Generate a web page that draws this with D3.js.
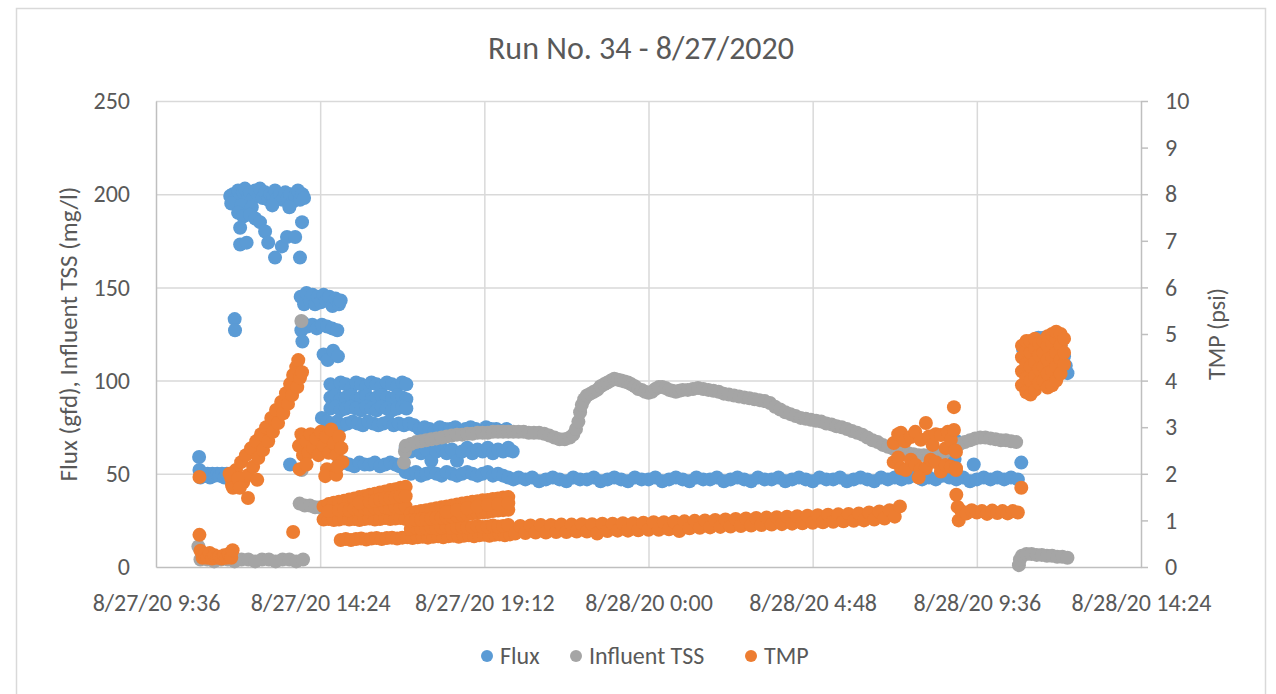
<!DOCTYPE html>
<html>
<head>
<meta charset="utf-8">
<script src="https://cdn.jsdelivr.net/npm/d3@7"></script>
<style>
  body { margin: 0; background: #fff; }
  svg { display: block; font-family: Carlito, Lato, "Open Sans", sans-serif; }
</style>
</head>
<body>
<div id="chart"></div>
<script>
// readings as [hours since 8/27/20 0:00, value]
const flux = [
  [10.86,59],[10.87,52],[10.9,48],[10.97,50],[11.04,49],[11.11,50],[11.18,48],[11.25,50],[11.32,49],[11.39,50],[11.46,49],[11.53,50],[11.6,48],[11.67,50],[11.74,49],[11.81,50],[11.88,49],
  [11.9,133],[11.91,127],
  [11.77,199],[11.85,200],[11.91,197],[12.0,202],[12.06,198],[12.15,201],[12.2,203],[12.3,199],[12.35,201],[12.45,198],[12.5,202],[12.6,199],[12.64,203],[12.72,198],[12.79,201],[12.88,197],[12.94,200],[13.02,199],[13.08,202],[13.15,198],[13.23,200],[13.3,197],[13.38,201],[13.45,198],[13.52,200],[13.6,196],[13.67,199],[13.75,202],[13.81,197],[13.88,200],[13.93,198],
  [11.8,195],[12.1,194],[12.4,193],[13.0,194],[13.5,193],[12.0,190],[12.15,188],
  [12.06,182],[12.06,173],[12.25,174],[12.35,189],[12.5,187],[12.64,185],[12.79,180],[12.88,174],[13.08,166],[13.28,172],[13.43,177],[13.67,177],[13.87,185],[13.81,166],
  [13.52,55],[13.85,127],[13.88,121],
  [13.83,145],[13.93,141],[14.0,147],[14.1,143],[14.18,146],[14.25,141],[14.33,145],[14.42,142],[14.5,146],[14.58,143],[14.67,145],[14.76,140],[14.85,144],[14.95,141],[15.0,143],
  [13.9,131],[14.03,129],[14.17,130],[14.3,128],[14.45,130],[14.6,129],[14.75,128],[14.9,127],
  [14.5,114],[14.62,111],[14.78,116],[14.92,113],
  [14.7,98],[14.85,97],[15.0,99],[15.15,98],[15.3,96],[15.45,99],[15.6,98],[15.75,97],[15.9,99],[16.05,98],[16.2,97],[16.35,99],[16.5,98],[16.65,97],[16.8,99],[16.92,98],
  [14.7,91],[14.85,92],[15.0,90],[15.15,91],[15.3,92],[15.45,90],[15.6,91],[15.75,92],[15.9,90],[16.05,91],[16.2,92],[16.35,91],[16.5,90],[16.65,92],[16.8,91],[16.92,90],
  [14.7,85],[14.85,86],[15.0,84],[15.15,85],[15.3,86],[15.45,85],[15.6,84],[15.75,86],[15.9,85],[16.05,84],[16.2,86],[16.35,85],[16.5,84],[16.65,85],[16.8,86],[16.92,85],
  [14.45,80],[14.6,78],[14.75,77],[14.9,78],[15.05,76],[15.2,77],[15.35,78],[15.5,77],[15.65,76],[15.8,78],[15.95,77],[16.1,76],[16.25,77],[16.4,78],[16.55,76],[16.7,77],[16.85,76],[17.0,77],[17.15,76],
  [14.95,55],[15.1,56],[15.25,55],[15.4,54],[15.55,56],[15.7,55],[15.85,55],[16.0,56],[16.15,54],[16.3,55],[16.45,56],[16.6,55],[16.72,54],
  [17.3,74],[17.45,75],[17.6,74],[17.75,73],[17.9,75],[18.05,74],[18.2,74],[18.35,75],[18.5,73],[18.65,74],[18.8,75],[18.95,74],[19.1,73],[19.25,75],[19.4,74],[19.55,74],[19.7,73],[19.85,74],
  [16.9,64],[17.05,62],[17.2,65],[17.35,61],[17.5,63],[17.65,57],[17.8,62],[17.95,64],[18.1,61],[18.25,63],[18.4,57],[18.55,62],[18.7,64],[18.85,61],[19.0,63],[19.15,62],[19.3,64],[19.45,61],[19.6,63],[19.75,62],[19.9,64],[20.03,62],
  [16.9,51],[17.05,50],[17.2,51],[17.35,49],[17.5,50],[17.65,51],[17.8,50],[17.95,49],[18.1,51],[18.25,50],[18.4,49],[18.55,50],[18.7,51],[18.85,50],[19.0,49],[19.15,50],[19.3,51],[19.45,49],[19.6,50],[19.75,49],[19.9,48],[20.05,47],
  [20.2,48],[20.4,47],[20.6,48],[20.8,46],[21.0,47],[21.2,48],[21.4,47],[21.6,46],[21.8,48],[22.0,47],[22.2,47],[22.4,48],[22.6,46],[22.8,47],[23.0,48],[23.2,47],[23.4,46],[23.6,48],[23.8,47],[24.0,47],
  [24.2,48],[24.4,46],[24.6,47],[24.8,48],[25.0,47],[25.2,46],[25.4,48],[25.6,47],[25.8,47],[26.0,48],[26.2,46],[26.4,47],[26.6,48],[26.8,47],[27.0,46],[27.2,48],[27.4,47],[27.6,47],[27.8,48],[28.0,46],
  [28.2,47],[28.4,48],[28.6,47],[28.8,46],[29.0,48],[29.2,47],[29.4,47],[29.6,48],[29.8,46],[30.0,47],[30.2,48],[30.4,47],[30.6,46],[30.8,48],[31.0,47],[31.2,48],[31.4,47],[31.6,48],[31.8,49],[32.0,47],
  [32.2,48],[32.4,47],[32.6,49],[32.8,48],[33.0,47],[33.2,48],[33.4,46],[33.6,47],[33.8,48],[34.0,47],[34.2,48],[34.4,47],[34.6,48],[34.8,47],
  [32.95,53],[32.95,58],[32.97,63],[32.97,68],[33.51,55],[34.9,56],
  [34.95,117],[35.05,112],[35.2,121],[35.3,115],[35.4,123],[35.5,118],[35.55,123],[35.7,120],[35.85,122],[35.95,116],[36.05,119],[36.15,113],[36.2,108],[36.25,104],[35.1,105],[35.6,108],[35.9,106]
];

const tss = [
  [10.84,11],
  [10.9,4],[11.1,4],[11.3,3],[11.5,4],[11.7,4],[11.9,3],[12.1,4],[12.3,4],[12.5,3],[12.7,4],[12.9,4],[13.1,3],[13.3,4],[13.5,4],[13.7,3],[13.9,4],
  [13.85,132],[13.86,52],
  [13.8,34],[13.95,33],[14.1,33],[14.25,32],[14.4,32],[14.55,31],[14.7,31],[14.85,30],
  [16.85,56],[16.88,62],
  [16.9,65],[17.05,66],[17.2,67],[17.35,67.5],[17.5,68],[17.65,68.5],[17.8,69],[17.95,69.5],[18.1,70],[18.25,70.5],[18.4,71],[18.55,71],[18.7,71.5],[18.85,71.5],[19.0,72],[19.15,72],[19.3,72],[19.45,72.5],[19.6,72.5],[19.75,72.5],
  [19.9,72.5],[20.05,72.5],[20.2,72.5],[20.35,72.5],[20.5,72],[20.65,72],[20.8,72],[20.95,71.5],[21.1,70.5],[21.25,69.5],[21.4,68.5],[21.55,68.5],[21.7,69.5],[21.8,71],[21.88,74],[21.95,78],[22.0,83],[22.05,87],[22.12,90],[22.2,92],
  [22.3,93],[22.4,94],[22.5,95],[22.6,97],[22.7,98],[22.8,99],[22.9,100],[23.0,101],[23.1,100.5],[23.2,100],[23.3,99.5],[23.4,99],[23.5,98],[23.6,97],[23.7,95.5],[23.8,95],[23.9,94],[24.0,93.5],[24.1,94],[24.2,95.5],
  [24.3,96.5],[24.4,96.5],[24.5,96],[24.6,95],[24.7,94.5],[24.8,94],[24.9,94.5],[25.0,95],[25.15,95],[25.3,95.5],[25.45,96],[25.6,95.5],[25.75,95],[25.9,94.5],[26.05,94],[26.2,93],[26.35,92.5],[26.5,92],[26.65,91.5],[26.8,91],
  [26.95,90.5],[27.1,90],[27.25,89.5],[27.4,89],[27.55,88],[27.7,86],[27.85,84.5],[28.0,83],[28.15,82],[28.3,81],[28.45,80],[28.6,79.5],[28.75,79],[28.9,78.5],[29.05,78],[29.2,77],[29.35,76.5],[29.5,75.5],[29.65,75],[29.8,74],
  [29.95,73],[30.1,72],[30.25,71],[30.4,69.5],[30.55,68],[30.7,67],[30.85,65.5],[31.0,64.5],[31.15,63.5],[31.3,62.5],[31.45,61.5],[31.6,61],[31.75,60.5],[31.9,60],[32.05,60],[32.2,60],[32.35,60],[32.5,60.5],[32.65,61.5],[32.8,63],
  [32.95,64.5],[33.1,66],[33.25,67],[33.4,68],[33.55,69],[33.7,69.5],[33.85,69.5],[34.0,69],[34.15,68.5],[34.3,68],[34.45,68],[34.6,67.5],[34.75,67],
  [34.83,1],[34.86,4],[34.92,6],[35.05,7],[35.2,7],[35.35,6.5],[35.5,6.5],[35.65,6],[35.8,6],[35.95,5.5],[36.1,5.5],[36.25,5]
];

const tmp = [
  [10.87,1.93],[10.87,0.69],
  [10.9,0.35],[10.96,0.2],[11.03,0.28],[11.1,0.2],[11.17,0.3],[11.24,0.18],[11.31,0.25],[11.38,0.2],[11.45,0.22],[11.52,0.18],[11.59,0.25],[11.66,0.2],[11.73,0.28],[11.8,0.2],[11.84,0.36],
  [11.8,1.91],[11.94,2.08],[12.09,2.25],[12.23,2.4],[12.38,2.55],[12.53,2.7],[12.67,2.85],[12.82,3.0],[12.97,3.2],[13.11,3.37],[13.26,3.54],[13.4,3.73],[13.52,3.93],[13.61,4.12],[13.7,4.29],[13.76,4.44],
  [12.15,1.82],[12.29,1.97],[12.44,2.15],[12.59,2.34],[12.73,2.51],[12.88,2.7],[13.02,2.9],[13.17,3.09],[13.32,3.3],[13.46,3.5],[13.58,3.69],[13.73,3.86],[13.81,4.06],[13.87,4.18],
  [12.29,1.48],[12.56,1.87],[11.82,1.76],[11.9,1.85],[13.61,0.75],[11.75,2.0],[11.85,1.7],[12.0,1.9],[12.05,1.7],
  [13.78,2.6],[13.85,2.85],[13.9,2.4],[14.0,2.7],[14.05,2.45],[14.12,2.85],[14.2,2.55],[14.28,2.75],[14.35,2.4],[14.42,2.9],[14.5,2.6],[14.58,2.8],[14.65,2.45],[14.72,2.95],[14.8,2.65],[14.88,2.4],[14.95,2.8],[15.02,2.55],
  [13.8,2.1],[14.0,2.2],[14.6,2.1],[14.55,1.95],[14.87,1.98],[15.05,2.25],[14.9,2.15],
  [14.5,1.3],[14.65,1.35],[14.8,1.38],[14.95,1.4],[15.1,1.42],[15.25,1.45],[15.4,1.47],[15.55,1.5],[15.7,1.52],[15.85,1.55],[16.0,1.57],[16.15,1.6],[16.3,1.62],[16.45,1.65],[16.6,1.67],[16.75,1.7],[16.9,1.72],
  [14.5,1.02],[14.65,1.03],[14.8,1.01],[14.95,1.02],[15.1,1.04],[15.25,1.02],[15.4,1.03],[15.55,1.01],[15.7,1.03],[15.85,1.04],[16.0,1.02],[16.15,1.03],[16.3,1.05],[16.45,1.03],[16.6,1.04],[16.75,1.05],[16.9,1.03],
  [14.65,1.2],[14.95,1.22],[15.1,1.24],[15.25,1.22],[15.4,1.25],[15.55,1.23],[15.7,1.26],[15.85,1.24],[16.0,1.27],[16.15,1.25],[16.3,1.28],[16.45,1.26],[16.6,1.29],[16.75,1.27],[16.9,1.3],
  [15.55,1.38],[15.85,1.4],[16.0,1.42],[16.15,1.45],[16.3,1.47],[16.45,1.48],[16.6,1.5],[16.75,1.52],[16.9,1.52],
  [15.0,0.58],[15.15,0.6],[15.3,0.58],[15.45,0.6],[15.6,0.61],[15.75,0.59],[15.9,0.61],[16.05,0.62],[16.2,0.6],[16.35,0.62],[16.5,0.63],[16.65,0.61],[16.8,0.63],[16.95,0.64],[17.1,0.62],[17.25,0.64],[17.4,0.65],
  [17.55,0.63],[17.7,0.65],[17.85,0.66],[18.0,0.64],[18.15,0.66],[18.3,0.67],[18.45,0.65],[18.6,0.67],[18.75,0.68],[18.9,0.66],[19.05,0.68],[19.2,0.69],[19.35,0.67],[19.5,0.69],[19.65,0.7],[19.8,0.68],[19.95,0.7],
  [17.05,1.15],[17.2,1.18],[17.35,1.2],[17.5,1.22],[17.65,1.24],[17.8,1.26],[17.95,1.28],[18.1,1.3],[18.25,1.32],[18.4,1.34],[18.55,1.36],[18.7,1.38],[18.85,1.4],[19.0,1.41],[19.15,1.43],[19.3,1.44],[19.45,1.46],[19.6,1.47],[19.75,1.49],[19.9,1.5],
  [17.05,0.82],[17.2,0.84],[17.35,0.82],[17.5,0.83],[17.65,0.85],[17.8,0.83],[17.95,0.84],[18.1,0.86],[18.25,0.84],[18.4,0.85],[18.55,0.87],[18.7,0.85],[18.85,0.86],[19.0,0.88],[19.15,0.86],[19.3,0.87],[19.45,0.89],[19.6,0.87],[19.75,0.88],[19.9,0.9],
  [17.05,1.0],[17.2,1.01],[17.35,1.02],[17.5,1.03],[17.65,1.04],[17.8,1.05],[17.95,1.06],[18.1,1.07],[18.25,1.08],[18.4,1.1],[18.55,1.12],[18.7,1.13],[18.85,1.15],[19.0,1.16],[19.15,1.17],[19.3,1.18],[19.45,1.2],[19.6,1.21],[19.75,1.22],[19.9,1.23],
  [18.1,1.18],[18.4,1.22],[18.7,1.26],[19.0,1.3],[19.3,1.33],[19.6,1.35],[19.9,1.37],
  [20.1,0.72],[20.25,0.88],[20.4,0.73],[20.55,0.89],[20.7,0.74],[20.85,0.9],[21.0,0.74],[21.15,0.9],[21.3,0.75],[21.45,0.91],[21.6,0.75],[21.75,0.91],[21.9,0.76],[22.05,0.92],[22.2,0.76],[22.35,0.92],[22.5,0.72],[22.65,0.93],[22.8,0.77],[22.95,0.93],
  [23.1,0.78],[23.25,0.94],[23.4,0.78],[23.55,0.94],[23.7,0.79],[23.85,0.95],[24.0,0.8],[24.15,0.96],[24.3,0.8],[24.45,0.96],[24.6,0.81],[24.75,0.97],[24.9,0.77],[25.05,0.98],[25.2,0.83],[25.35,0.99],[25.5,0.84],[25.65,1.0],[25.8,0.85],[25.95,1.01],
  [26.1,0.86],[26.25,1.02],[26.4,0.87],[26.55,1.03],[26.7,0.88],[26.85,1.04],[27.0,0.89],[27.15,1.05],[27.3,0.9],[27.45,1.06],[27.6,0.91],[27.75,1.07],[27.9,0.92],[28.05,1.08],[28.2,0.93],[28.35,1.09],[28.5,0.94],[28.65,1.1],[28.8,0.95],[28.95,1.11],
  [29.1,0.96],[29.25,1.12],[29.4,0.97],[29.55,1.13],[29.7,0.98],[29.85,1.14],[30.0,0.99],[30.15,1.15],[30.3,1.0],[30.45,1.17],[30.6,1.02],[30.75,1.19],[30.9,1.04],[31.05,1.22],[31.2,1.08],[31.35,1.3],
  [31.17,2.66],[31.3,2.85],[31.38,2.88],[31.5,2.7],[31.67,2.79],[31.8,2.9],[31.96,2.73],[32.11,3.09],[32.2,2.8],[32.31,2.62],[32.4,2.85],[32.55,2.83],[32.69,2.55],[32.75,2.9],[32.84,2.73],[32.99,2.47],
  [31.17,2.25],[31.3,2.35],[31.38,2.12],[31.52,2.08],[31.67,2.3],[31.81,2.19],[31.96,2.1],[32.11,2.12],[32.25,2.3],[32.4,2.25],[32.55,2.05],[32.69,2.19],[32.84,2.15],[32.99,2.08],
  [32.93,3.43],[32.93,2.94],[32.97,2.5],[32.99,2.12],[31.9,1.92],
  [33.0,1.55],[33.04,1.29],[33.07,1.0],
  [33.15,1.2],[33.3,1.15],[33.45,1.22],[33.6,1.17],[33.75,1.2],[33.9,1.14],[34.05,1.21],[34.2,1.16],[34.35,1.2],[34.5,1.15],[34.65,1.2],[34.8,1.17],
  [34.9,1.7],
  [34.92,3.9],[34.92,4.2],[34.92,4.5],[34.92,4.75],
  [35.05,3.75],[35.05,4.05],[35.05,4.35],[35.05,4.65],[35.05,4.85],
  [35.17,3.7],[35.17,4.0],[35.17,4.3],[35.17,4.6],[35.17,4.85],
  [35.3,3.8],[35.3,4.1],[35.3,4.4],[35.3,4.7],[35.3,4.9],
  [35.42,3.95],[35.42,4.25],[35.42,4.55],[35.42,4.8],
  [35.55,4.0],[35.55,4.3],[35.55,4.6],[35.55,4.85],
  [35.67,3.85],[35.67,4.15],[35.67,4.45],[35.67,4.75],[35.67,4.95],
  [35.8,3.9],[35.8,4.2],[35.8,4.5],[35.8,4.8],[35.8,5.0],
  [35.92,4.0],[35.92,4.3],[35.92,4.6],[35.92,4.9],[35.92,5.05],
  [36.05,4.15],[36.05,4.45],[36.05,4.75],[36.05,5.0],
  [36.15,4.35],[36.15,4.6],[36.15,4.9]
];

const leftTicks = [0, 50, 100, 150, 200, 250];
const rightTicks = [0, 1, 2, 3, 4, 5, 6, 7, 8, 9, 10];
const xTicks = ["2020-08-27 09:36", "2020-08-27 14:24", "2020-08-27 19:12", "2020-08-28 00:00",
                "2020-08-28 04:48", "2020-08-28 09:36", "2020-08-28 14:24"];
const seriesNames = ["Flux", "Influent TSS", "TMP"];
const seriesColors = ["#5B9BD5", "#A5A5A5", "#ED7D31"];

const W = 1276, H = 694;
const M = {left: 156, right: 1141, top: 101, bottom: 567};
const textColor = "#595959";
const gridColor = "#d9d9d9";
const axisColor = "#bfbfbf";
const tickFont = "24px";

const base = new Date(2020, 7, 27);
const hourToDate = h => new Date(base.getTime() + h * 3600000);
const parseTick = d3.timeParse("%Y-%m-%d %H:%M");
const tickDates = xTicks.map(parseTick);

const x = d3.scaleTime().domain([tickDates[0], tickDates[tickDates.length - 1]]).range([M.left, M.right]);
const yL = d3.scaleLinear().domain([0, 250]).range([M.bottom, M.top]);
const yR = d3.scaleLinear().domain([0, 10]).range([M.bottom, M.top]);

const svg = d3.select("#chart").append("svg")
  .attr("width", W).attr("height", H);

svg.append("rect").attr("x", 0).attr("y", 0).attr("width", W).attr("height", H).attr("fill", "#fff");
svg.append("rect")
  .attr("x", 16.5).attr("y", 8.5).attr("width", 1249).attr("height", 700)
  .attr("fill", "none").attr("stroke", gridColor).attr("stroke-width", 1.5);

// title
svg.append("text")
  .attr("x", 641).attr("y", 48).attr("dy", "0.35em")
  .attr("text-anchor", "middle")
  .attr("fill", textColor)
  .style("font-size", "32px")
  .text("Run No. 34 - 8/27/2020");

// gridlines
svg.append("g")
  .attr("transform", `translate(${M.left},0)`)
  .call(d3.axisLeft(yL).tickValues(leftTicks.slice(1)).tickSize(-(M.right - M.left)).tickFormat(""))
  .call(g => g.select(".domain").remove())
  .selectAll("line").attr("stroke", gridColor).attr("stroke-width", 1.5);

svg.append("g")
  .attr("transform", `translate(0,${M.bottom})`)
  .call(d3.axisBottom(x).tickValues(tickDates.slice(1, -1)).tickSize(-(M.bottom - M.top)).tickFormat(""))
  .call(g => g.select(".domain").remove())
  .selectAll("line").attr("stroke", gridColor).attr("stroke-width", 1.5);

// axes
const styleAxis = g => {
  g.attr("font-family", null).attr("font-size", null);
  g.select(".domain").attr("stroke", axisColor).attr("stroke-width", 1.5);
  g.selectAll(".tick line").attr("stroke", axisColor).attr("stroke-width", 1.5);
  g.selectAll(".tick text").attr("fill", textColor).style("font-size", tickFont);
};

svg.append("g")
  .attr("transform", `translate(${M.left},0)`)
  .call(d3.axisLeft(yL).tickValues(leftTicks).tickSize(0).tickSizeOuter(0).tickPadding(26))
  .call(styleAxis);

svg.append("g")
  .attr("transform", `translate(${M.right},0)`)
  .call(d3.axisRight(yR).tickValues(rightTicks).tickSize(7).tickSizeOuter(0).tickPadding(17))
  .call(styleAxis);

svg.append("g")
  .attr("transform", `translate(0,${M.bottom})`)
  .call(d3.axisBottom(x).tickValues(tickDates).tickSize(0).tickSizeOuter(0).tickPadding(27)
        .tickFormat(d3.timeFormat("%-m/%-d/%y %-H:%M")))
  .call(styleAxis);

// axis titles
svg.append("text")
  .attr("transform", `translate(68,${(M.top + M.bottom) / 2}) rotate(-90)`)
  .attr("dy", "0.35em").attr("text-anchor", "middle")
  .attr("fill", textColor).style("font-size", "25px")
  .text("Flux (gfd), Influent TSS (mg/l)");

svg.append("text")
  .attr("transform", `translate(1217,${(M.top + M.bottom) / 2}) rotate(-90)`)
  .attr("dy", "0.35em").attr("text-anchor", "middle")
  .attr("fill", textColor).style("font-size", tickFont)
  .text("TMP (psi)");

// points
const seriesData = [flux, tss, tmp];
const seriesY = [yL, yL, yR];
seriesData.forEach((data, i) => {
  svg.append("g")
    .selectAll("circle")
    .data(data)
    .join("circle")
    .attr("cx", d => x(hourToDate(d[0])))
    .attr("cy", d => seriesY[i](d[1]))
    .attr("r", 7)
    .attr("fill", seriesColors[i]);
});

// legend
const legendX = [487, 576, 751];
const legend = svg.append("g").attr("transform", "translate(0,656)");
seriesNames.forEach((name, i) => {
  legend.append("circle").attr("cx", legendX[i]).attr("cy", 0).attr("r", 6).attr("fill", seriesColors[i]);
  legend.append("text")
    .attr("x", legendX[i] + 13).attr("dy", "0.35em")
    .attr("fill", textColor).style("font-size", tickFont)
    .text(name);
});
</script>
</body>
</html>
